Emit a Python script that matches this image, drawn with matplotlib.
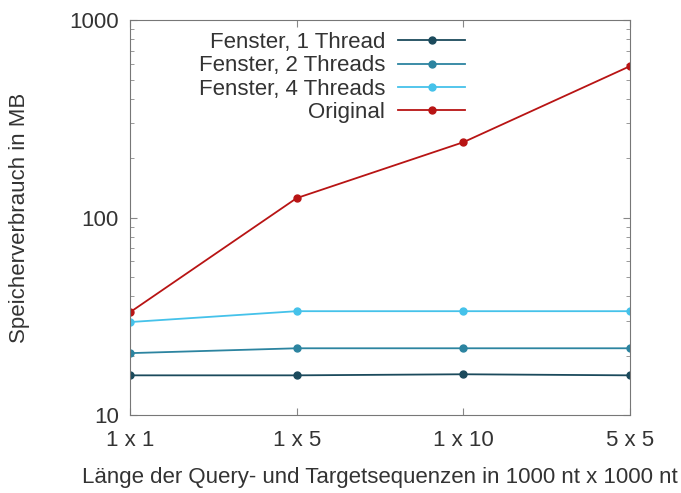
import matplotlib.pyplot as plt
from matplotlib.ticker import LogLocator, NullFormatter

plt.rcParams['font.family'] = ['Liberation Sans', 'DejaVu Sans']

laengen = ["1 x 1", "1 x 5", "1 x 10", "5 x 5"]
fenster_1 = [15.9, 15.9, 16.1, 15.9]
fenster_2 = [20.6, 21.8, 21.8, 21.8]
fenster_4 = [29.6, 33.6, 33.6, 33.6]
original = [33.2, 125.6, 241, 585]

fig = plt.figure(figsize=(6.81, 4.93), dpi=100)
ax = fig.add_axes([0.191, 0.158, 0.734, 0.801])

x = range(len(laengen))
ax.plot(x, fenster_1, color="#1b4a5c", marker="o", markersize=5, lw=1.3, label="Fenster, 1 Thread")
ax.plot(x, fenster_2, color="#2c84a0", marker="o", markersize=5, lw=1.3, label="Fenster, 2 Threads")
ax.plot(x, fenster_4, color="#45c2ea", marker="o", markersize=5, lw=1.3, label="Fenster, 4 Threads")
ax.plot(x, original, color="#b81414", marker="o", markersize=5, lw=1.3, label="Original")

ax.set_yscale("log")
ax.set_ylim(10, 1000)
ax.set_xlim(0, 3)
ax.set_xticks(list(x))
ax.set_xticklabels(laengen)
ax.yaxis.set_minor_locator(LogLocator(base=10, subs=range(2, 10)))
ax.yaxis.set_minor_formatter(NullFormatter())
ax.set_yticks([10, 100, 1000])
ax.set_yticklabels(["10", "100", "1000"])
ax.tick_params(direction="in", which="both", top=True, right=True, labelsize=16, colors="#333333")
ax.tick_params(which="major", length=5, color="#888888")
ax.tick_params(which="minor", length=3, color="#888888")
ax.tick_params(axis="x", pad=11)
ax.tick_params(axis="y", pad=8)
for s in ax.spines.values():
    s.set_color("#777777")

ax.set_ylabel("Speicherverbrauch in MB", fontsize=16, color="#333333", labelpad=28)
ax.set_xlabel("Länge der Query- und Targetsequenzen in 1000 nt x 1000 nt", fontsize=16, color="#333333", labelpad=11)

ax.legend(loc="upper right", bbox_to_anchor=(0.67, 0.97), markerfirst=False, frameon=False,
          fontsize=16, handlelength=3, handletextpad=0.6, labelspacing=0.1,
          borderaxespad=0, borderpad=0)
leg = ax.get_legend()
for t in leg.get_texts():
    t.set_ha("right")
    t.set_color("#333333")

fig.savefig("out.png", dpi=100)
